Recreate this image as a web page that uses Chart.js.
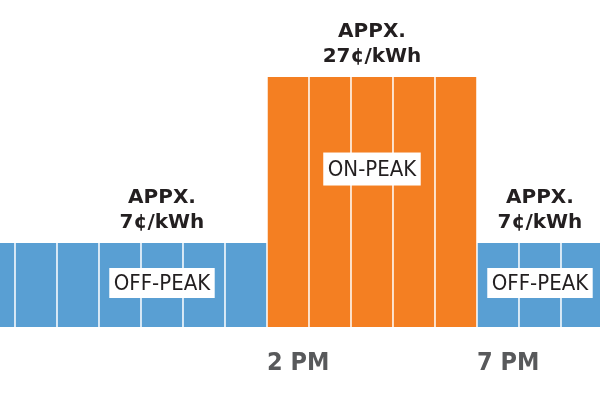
<!DOCTYPE html>
<html>
<head>
<meta charset="utf-8">
<script src="https://cdn.jsdelivr.net/npm/chart.js@4"></script>
<style>
  html, body { margin: 0; padding: 0; background: #fff; }
  #wrap { width: 600px; height: 400px; }
</style>
</head>
<body>
<div id="wrap"><canvas id="rates"></canvas></div>
<script>
// hourly blocks, hour 14 = 2 PM
const hours = [7, 8, 9, 10, 11, 12, 13, 14, 15, 16, 17, 18, 19, 20, 21];
const prices = [7, 7, 7, 7, 7, 7, 7, 27, 27, 27, 27, 27, 7, 7, 7];
const periods = ['off', 'off', 'off', 'off', 'off', 'off', 'off', 'on', 'on', 'on', 'on', 'on', 'off', 'off', 'off'];
const tickHours = [14, 19];
const tickLabels = ['2 PM', '7 PM'];
// labels per period: centre hour, price text, box text
const noteHours = [11.5, 16.5, 20.5];
const notePrices = [7, 27, 7];
const noteTexts = ['OFF-PEAK', 'ON-PEAK', 'OFF-PEAK'];

const BLUE = '#599fd3';
const ORANGE = '#f47f22';
const yFloor = -3.12;

// Preisangaben + weiße Kästchen
const notesPlugin = {
    id: 'notes',
    afterDatasetsDraw(chart) {
        const { ctx, scales: { x, y } } = chart;
        ctx.save();
        noteHours.forEach((h, i) => {
            const cx = x.getPixelForValue(h);
            const top = y.getPixelForValue(notePrices[i]);
            ctx.fillStyle = '#231f20';
            ctx.font = 'bold 20px "DejaVu Sans"';
            ctx.textAlign = 'center';
            ctx.textBaseline = 'alphabetic';
            ctx.fillText(notePrices[i] + '¢/kWh', cx, top - 15);
            ctx.fillText('APPX.', cx, top - 40);

            const onPeak = noteTexts[i] === 'ON-PEAK';
            const by = onPeak ? top + 92 : top + 40;
            const bh = onPeak ? 33 : 30;
            ctx.font = '22px "DejaVu Sans Condensed", sans-serif';
            const w = ctx.measureText(noteTexts[i]).width + 9;
            ctx.fillStyle = '#fff';
            ctx.fillRect(cx - w / 2, by - bh / 2, w, bh);
            ctx.fillStyle = '#231f20';
            ctx.textBaseline = 'middle';
            ctx.fillText(noteTexts[i], cx, by + 1);
        });
        ctx.restore();
    }
};

new Chart(document.getElementById('rates'), {
    type: 'bar',
    data: {
        datasets: [{
            data: hours.map((h, i) => ({ x: h + 0.5, y: prices[i] })),
            backgroundColor: periods.map(p => p === 'on' ? ORANGE : BLUE),
            base: yFloor,
            barPercentage: 0.964,
            categoryPercentage: 1
        }]
    },
    options: {
        responsive: true,
        maintainAspectRatio: false,
        animation: false,
        layout: { padding: 0 },
        plugins: { legend: { display: false }, tooltip: { enabled: false } },
        scales: {
            x: {
                type: 'linear',
                offset: false,
                min: 7.643,
                max: 21.929,
                grid: { display: false, drawTicks: false, tickLength: 0 },
                border: { display: false },
                afterBuildTicks: axis => { axis.ticks = tickHours.map(v => ({ value: v })); },
                afterFit: axis => { axis.height = 73; },
                ticks: {
                    align: 'start',
                    padding: 21,
                    autoSkip: false,
                    maxRotation: 0,
                    color: '#58595b',
                    font: { family: '"DejaVu Sans Condensed", sans-serif', size: 25, weight: 'bold' },
                    callback: v => tickLabels[tickHours.indexOf(v)]
                }
            },
            y: { display: false, min: yFloor, max: 36.28 }
        }
    },
    plugins: [notesPlugin]
});
</script>
</body>
</html>
